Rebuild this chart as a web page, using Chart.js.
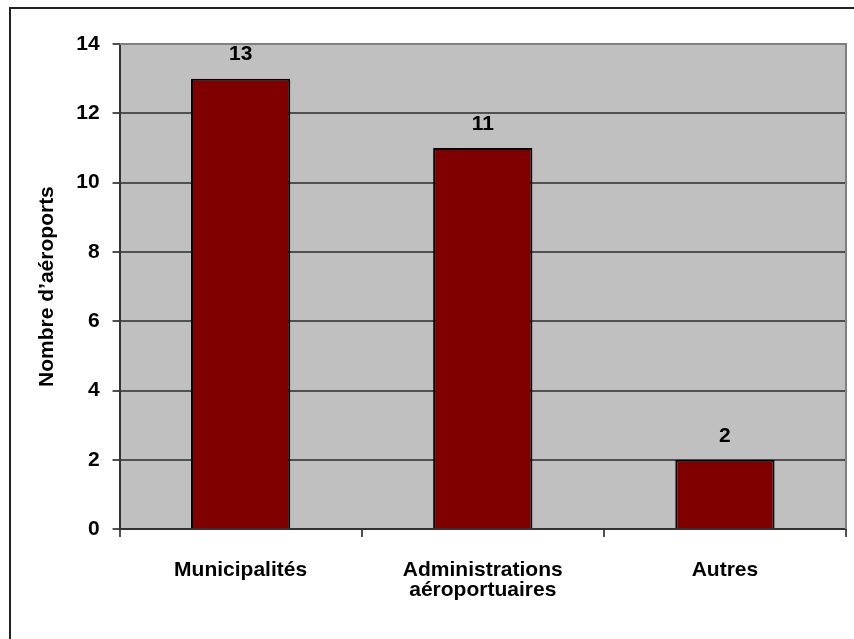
<!DOCTYPE html>
<html lang="fr">
<head>
<meta charset="utf-8">
<title>Nombre d’aéroports par exploitant</title>
<script src="https://cdn.jsdelivr.net/npm/chart.js@4.4.0/dist/chart.umd.min.js"></script>
<style>
  html, body { margin:0; padding:0; background:#fff; }
  #wrap { position:relative; width:854px; height:639px; overflow:hidden; }
  #frame { position:absolute; left:9px; top:7px; width:900px; height:700px;
           border-left:2px solid #222; border-top:2px solid #222; pointer-events:none; }
  canvas { position:absolute; left:0; top:0; }
</style>
</head>
<body>
<div id="wrap">
  <canvas id="chart" width="854" height="639"></canvas>
  <div id="frame"></div>
</div>
<script>
// Aéroports par type d'exploitant
const categories = ["Municipalités", ["Administrations", "aéroportuaires"], "Autres"];
const airportCounts = [13, 11, 2];
const yTicks = [0, 2, 4, 6, 8, 10, 12, 14];
const yTitle = "Nombre d’aéroports";

const FONT = "'Liberation Sans', Arial, sans-serif";
const GRID = "#505050";

// grey plot background + light top/right frame
const plotFrame = {
  id: "plotFrame",
  beforeDraw(chart){
    const {ctx, chartArea:a} = chart;
    ctx.save();
    ctx.fillStyle = "#c0c0c0";
    ctx.fillRect(a.left, a.top, a.right - a.left, a.bottom - a.top);
    ctx.restore();
  },
  beforeDatasetsDraw(chart){
    const {ctx, chartArea:a} = chart;
    ctx.save();
    ctx.strokeStyle = "#808080";
    ctx.lineWidth = 2;
    ctx.beginPath();
    ctx.moveTo(a.left, a.top);
    ctx.lineTo(a.right, a.top);
    ctx.lineTo(a.right, a.bottom);
    ctx.stroke();
    ctx.restore();
  }
};

// value above each bar
const barValues = {
  id: "barValues",
  afterDatasetsDraw(chart){
    const {ctx} = chart;
    const meta = chart.getDatasetMeta(0);
    ctx.save();
    ctx.font = `bold 21px ${FONT}`;
    ctx.fillStyle = "#000";
    ctx.textAlign = "center";
    ctx.textBaseline = "middle";
    meta.data.forEach((bar, i)=>{
      ctx.fillText(String(airportCounts[i]), bar.x, bar.y - 24);
    });
    ctx.restore();
  }
};

new Chart(document.getElementById("chart"), {
  type: "bar",
  data: {
    labels: categories,
    datasets: [{
      data: airportCounts,
      backgroundColor: "#800000",
      borderColor: "#000",
      borderWidth: 2,
      barPercentage: 0.41,
      categoryPercentage: 1,
    }]
  },
  options: {
    responsive: false,
    animation: false,
    events: [],
    layout: { padding: { left: 34, top: 44, right: 8, bottom: 16 } },
    plugins: { legend: { display: false }, tooltip: { enabled: false } },
    scales: {
      x: {
        grid: { offset: true, drawOnChartArea: false, drawTicks: true, tickLength: 8, color: GRID, lineWidth: 2 },
        border: { display: true, color: "#333", width: 2 },
        ticks: {
          color: "#000",
          padding: 23,
          maxRotation: 0,
          autoSkip: false,
          font: { family: FONT, size: 21, weight: "bold", lineHeight: 0.95 },
        },
      },
      y: {
        min: 0,
        max: 14,
        afterBuildTicks(scale){ scale.ticks = yTicks.map(v=>({value: v})); },
        grid: { drawTicks: true, tickLength: 7, color: GRID, lineWidth: 2 },
        border: { display: true, color: "#333", width: 2 },
        ticks: {
          color: "#000",
          padding: 13,
          font: { family: FONT, size: 21, weight: "bold" },
        },
        title: {
          display: true,
          text: yTitle,
          color: "#000",
          padding: { top: 1, bottom: 3 },
          font: { family: FONT, size: 21, weight: "bold" },
        },
      },
    },
  },
  plugins: [plotFrame, barValues],
});
</script>
</body>
</html>
